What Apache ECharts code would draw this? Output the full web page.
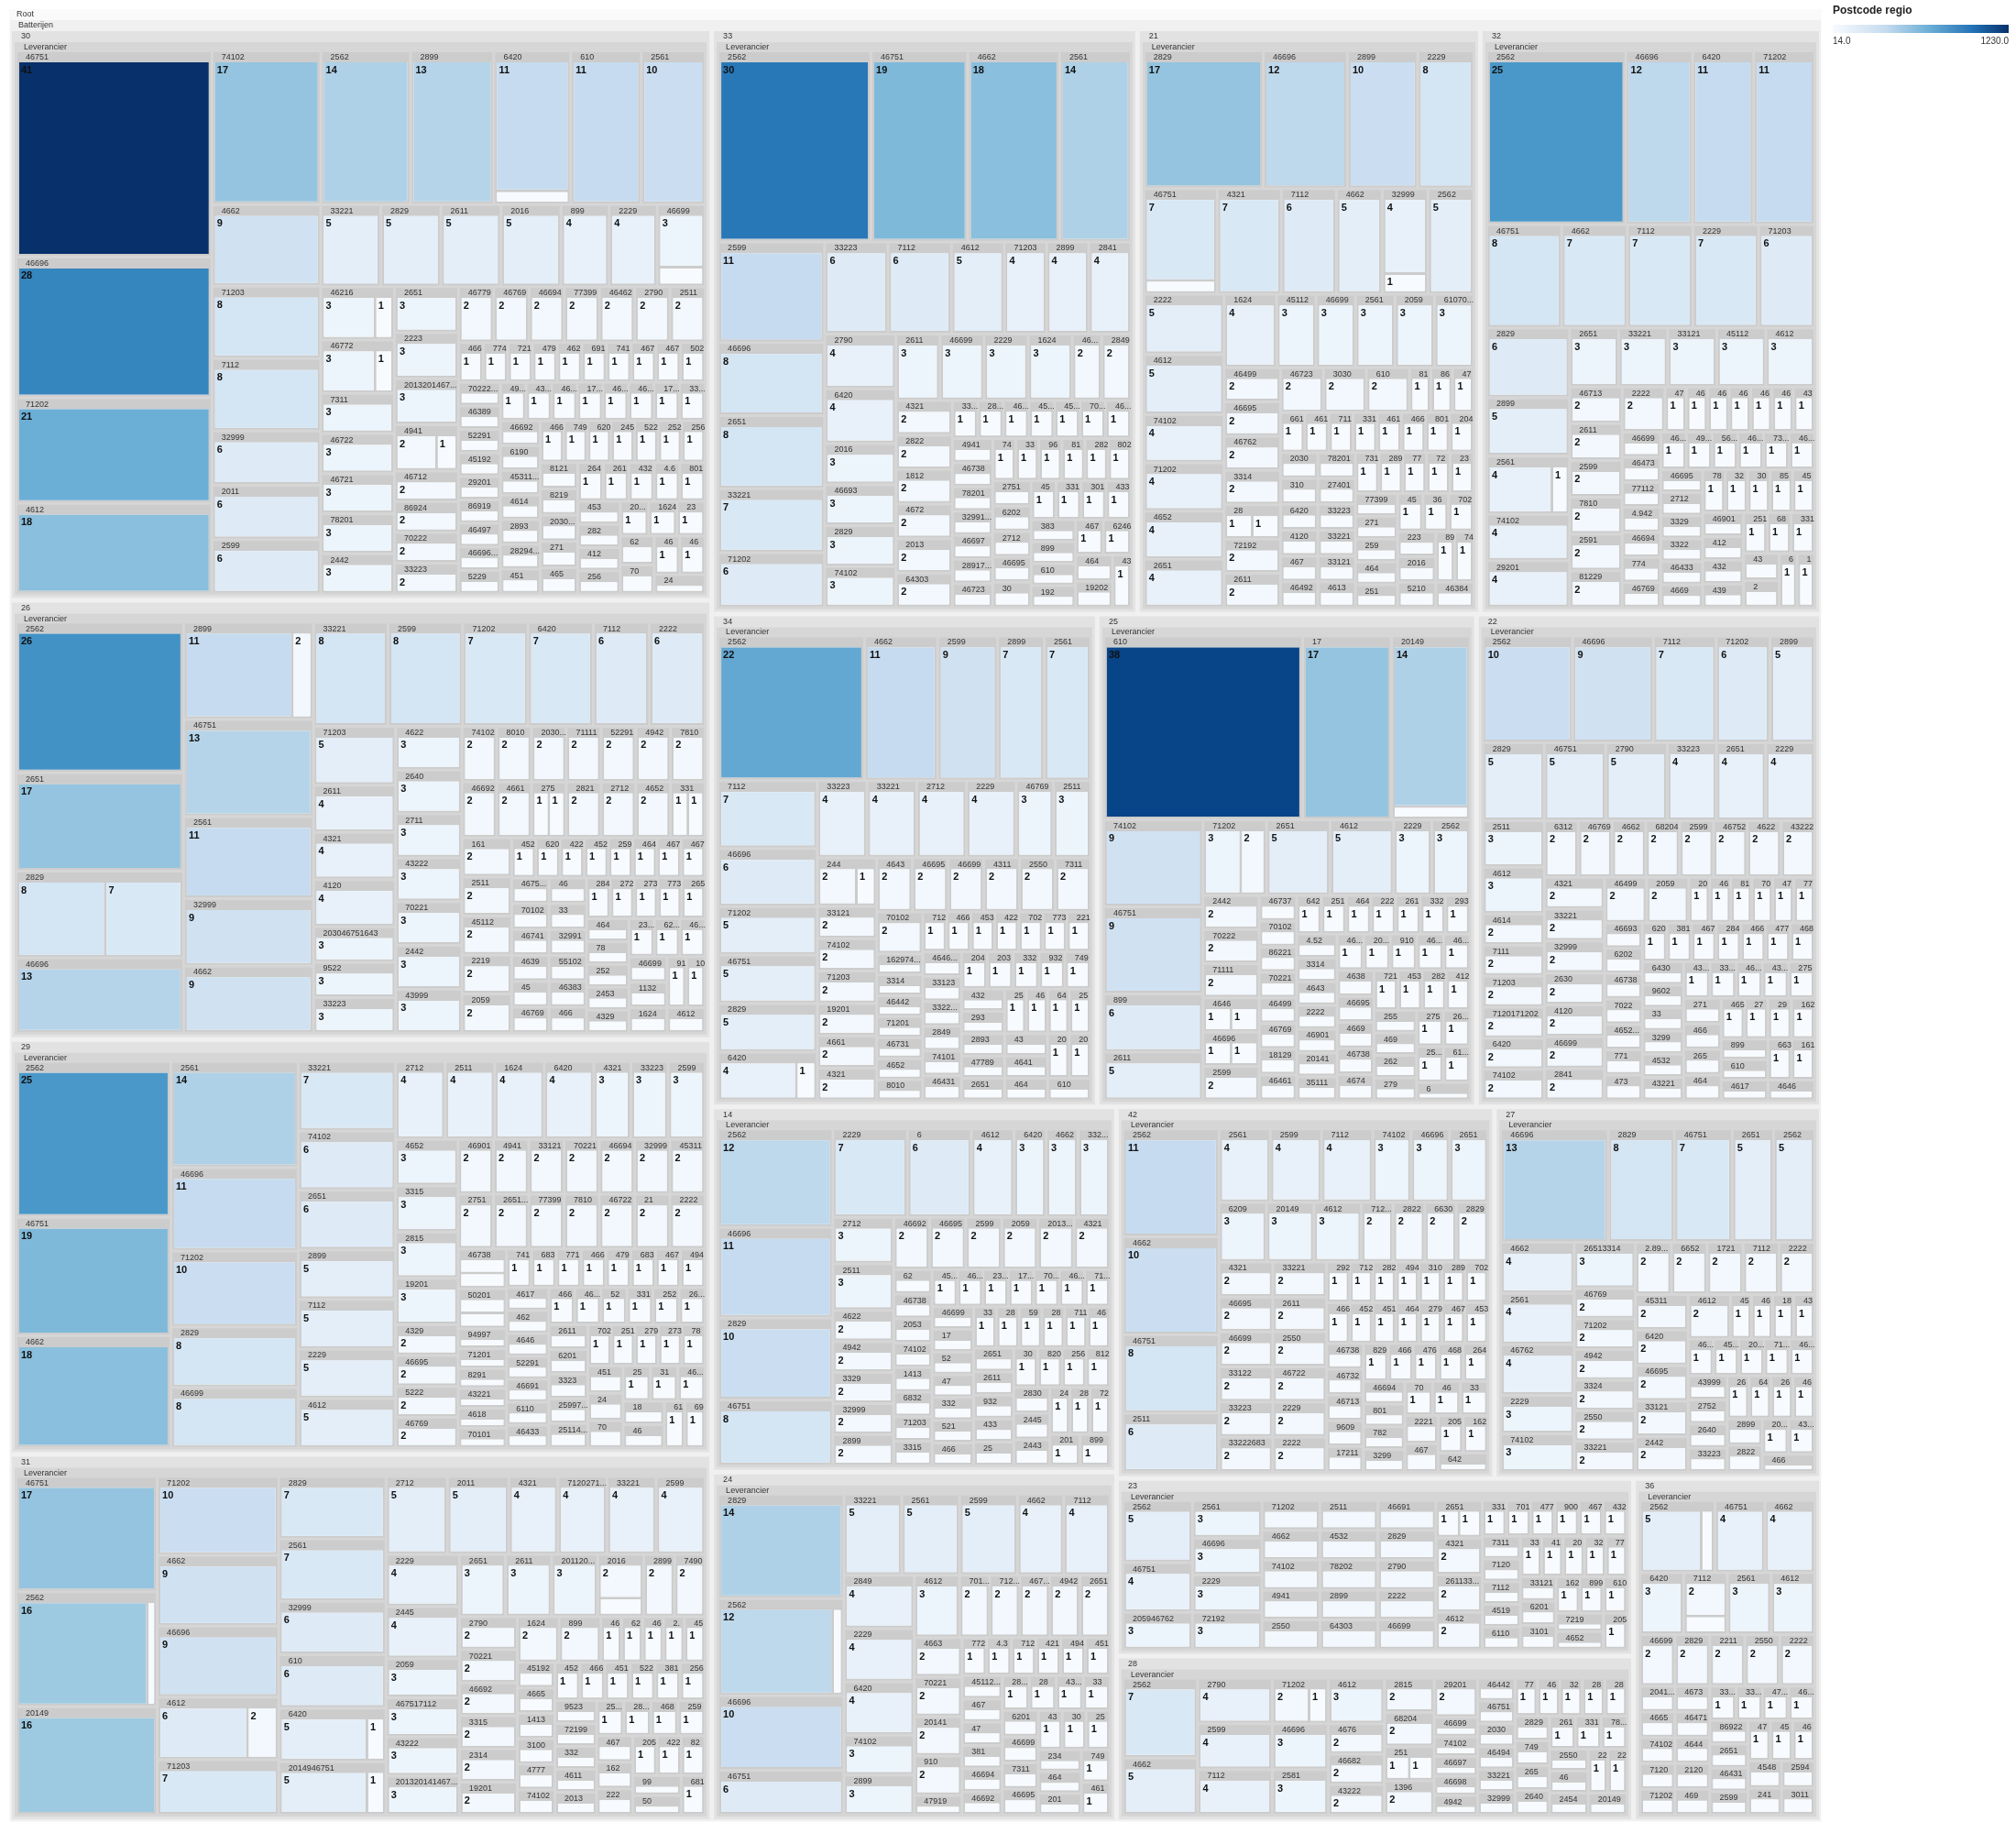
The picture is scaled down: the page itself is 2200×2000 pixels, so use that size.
<!DOCTYPE html>
<html>
<head>
<meta charset="utf-8">
<script src="https://cdn.jsdelivr.net/npm/echarts@6/dist/echarts.min.js"></script>
<style>html,body{margin:0;padding:0;background:#fff}#main{width:2200px;height:2000px}</style>
</head>
<body>
<div id="main"></div>
<script>
// postcode -> leaf values per regio
var regio31 = [['4612',[6,2]],['2016',[1,2]],['2014946751',[1,5]],['6420',[1,5]],['6810',[1]],['2562',[1,16]],['610',[6]],['50',[1]],['899',[2]],['99',[1]],['1624',[2]],['82',[1]],['19201',[2]],['2011',[5]],['201120593319',[3]],['4222',[1]],['2712',[5]],['2445',[4]],['205',[1]],['222',[1]],['2229',[4]],['2599',[4]],['162',[1]],['467',[1]],['2314',[2]],['2561',[7]],['3315',[2]],['71202',[10]],['259',[1]],['2611',[3]],['46692',[2]],['468',[1]],['2651',[3]],['70221',[2]],['2790',[2]],['2895',[1]],['25624941',[1]],['2013',[1]],['20132014146751',[3]],['43222',[3]],['467517112',[3]],['4611',[1]],['332',[1]],['33221',[4]],['72199',[1]],['20149',[16]],['9523',[1]],['25624663',[1]],['2829',[7]],['46696',[9]],['4662',[9]],['32999',[6]],['46751',[17]],['3811',[1]],['52291',[1]],['7120271203',[4]],['45112',[1]],['71203',[7]],['7490',[2]],['4321',[4]],['46694',[1]],['2899',[2]],['2059',[3]],['45202',[1]],['74102',[1]],['4777',[1]],['3100',[1]],['1413',[1]],['4665',[1]],['45192',[1]],['45112467',[1]],['2.93',[1]],['46600',[1]],['6209',[1]],['46740',[1]]];
var regio30 = [['4612',[18]],['24',[1]],['46772',[1,3]],['46',[1]],['46216',[1,3]],['4941',[1,2]],['46699',[1,3]],['46',[1]],['70',[1]],['6420',[1,11]],['62',[1]],['610',[11]],['46751',[41]],['2599',[6]],['2229',[4]],['23',[1]],['899',[4]],['1624',[1]],['2011',[6]],['2016',[5]],['201320146751',[3]],['201415221',[1]],['2899',[13]],['2223',[3]],['2561',[10]],['256',[1]],['412',[1]],['282',[1]],['7112',[8]],['453',[1]],['801',[1]],['4.6',[1]],['2611',[5]],['432',[1]],['261',[1]],['264',[1]],['2651',[3]],['465',[1]],['271',[1]],['2030246',[1]],['2442',[3]],['78201',[3]],['8219',[1]],['8121',[1]],['2562',[14]],['46721',[3]],['46722',[3]],['2511',[2]],['256246722',[1]],['2529',[1]],['52292',[1]],['2454',[1]],['2790',[2]],['2829',[5]],['620',[1]],['749',[1]],['46462',[2]],['46649981',[1]],['32999',[6]],['77399',[2]],['33221',[5]],['451',[1]],['2829465271128010',[1]],['2893',[1]],['4662',[9]],['4614',[1]],['4531152109',[1]],['74102',[17]],['6190',[1]],['71202',[21]],['7311',[3]],['46694',[2]],['46692',[1]],['46696',[28]],['3311',[1]],['1729',[1]],['46723',[1]],['46732',[1]],['1723',[1]],['4665',[1]],['46769',[2]],['43999',[1]],['4932',[1]],['5229',[1]],['46779',[2]],['466965229',[1]],['46497',[1]],['86919',[1]],['29201',[1]],['45192',[1]],['52291',[1]],['46389',[1]],['7022286922',[1]],['50201',[1]],['71203',[8]],['33223',[2]],['46761',[1]],['46751642',[1]],['70222',[2]],['86924',[2]],['74101',[1]],['6910',[1]],['46241',[1]],['46712',[2]],['47915',[1]],['72192',[1]],['7740',[1]],['46697',[1]]];
var regio24 = [['4612',[3]],['461',[1]],['749',[1]],['910',[2]],['6420',[4]],['201',[1]],['20141',[2]],['464',[1]],['2229',[4]],['70221',[2]],['2849',[4]],['2599',[5]],['4663',[2]],['234',[1]],['2561',[5]],['25',[1]],['2562',[1,12]],['30',[1]],['43',[1]],['46695',[1]],['2651',[2]],['7311',[1]],['46699',[1]],['6201',[1]],['2829',[14]],['33',[1]],['2899',[3]],['7112',[4]],['4321',[1]],['28',[1]],['33221',[5]],['28123322346699',[1]],['46692',[1]],['46694',[1]],['4662',[4]],['381',[1]],['47',[1]],['46751',[6]],['46696',[10]],['4942',[2]],['467',[1]],['46769',[2]],['71202',[2]],['4511245204',[1]],['45112',[1]],['74102',[3]],['4941',[1]],['4211145192',[1]],['70102',[2]],['71203',[1]],['4.32222466',[1]],['77299',[1]],['47919',[1]]];
var regio34 = [['6420',[1,4]],['610',[1]],['201',[1]],['70102',[2]],['205',[1]],['2229',[4]],['464',[1]],['4641',[1]],['7311',[2]],['7112',[7]],['244',[1,2]],['2561',[7]],['2511',[3]],['2562',[22]],['43',[1]],['4662',[11]],['2550',[2]],['4311',[2]],['2599',[9]],['256',[1]],['649',[1]],['467',[1]],['251',[1]],['46699',[2]],['2712',[4]],['46695',[2]],['2651',[1]],['4643',[2]],['4321',[2]],['47789',[1]],['2893',[1]],['2829',[5]],['4661',[2]],['293',[1]],['432',[1]],['749',[1]],['932',[1]],['332',[1]],['33221',[4]],['33223',[4]],['46696',[6]],['203',[1]],['204',[1]],['46431',[1]],['74101',[1]],['2849',[1]],['2899',[7]],['3322343222',[1]],['33123',[1]],['4646146751',[1]],['19201',[2]],['46769',[3]],['2219',[1]],['7732',[1]],['7021',[1]],['4222',[1]],['45311',[1]],['4663',[1]],['46751',[5]],['71202',[5]],['7120171',[1]],['8010',[1]],['71203',[2]],['74102',[2]],['33121',[2]],['4652',[1]],['46731',[1]],['71201',[1]],['46442',[1]],['3314',[1]],['162974102',[1]]];
var regio14 = [['4612',[4]],['899',[1]],['201',[1]],['4321',[2]],['2013467',[2]],['721',[1]],['2059',[2]],['2829',[10]],['2229',[7]],['2815',[1]],['2441',[1]],['2443',[1]],['2445',[1]],['2830',[1]],['81229',[1]],['2561',[1]],['2562',[12]],['820',[1]],['30',[1]],['25',[1]],['433',[1]],['2511',[3]],['2599',[2]],['932',[1]],['2611',[1]],['2651',[1]],['46695',[2]],['464',[1]],['2712',[3]],['7112',[1]],['282',[1]],['5911',[1]],['46692',[2]],['2841',[1]],['2899',[2]],['32999',[2]],['33221',[3]],['331',[1]],['466',[1]],['521',[1]],['332',[1]],['3329',[2]],['47',[1]],['4662',[3]],['52',[1]],['17',[1]],['46696',[11]],['46699',[1]],['46751',[8]],['4942',[2]],['71202',[1]],['4669',[1]],['7022',[1]],['4622',[2]],['17122',[1]],['2312',[1]],['46311',[1]],['45205',[1]],['3315',[1]],['71203',[1]],['6832',[1]],['1413',[1]],['74102',[1]],['2053',[1]],['6420',[3]],['46738',[1]],['62',[1]],['6',[6]]];
var regio33 = [['4612',[5]],['439',[1]],['19202',[1]],['464',[1]],['6246',[1]],['64303',[2]],['467',[1]],['192',[1]],['610',[1]],['899',[1]],['1624',[3]],['2013',[2]],['2229',[3]],['383',[1]],['46699',[3]],['4334',[1]],['2561',[14]],['3011',[1]],['3315',[1]],['2562',[30]],['4662',[18]],['4672',[2]],['2599',[11]],['1812',[2]],['2822',[2]],['45',[1]],['2611',[3]],['74102',[3]],['6420',[4]],['2651',[8]],['30',[1]],['7112',[6]],['46695',[1]],['4321',[2]],['2712',[1]],['6202',[1]],['2751',[1]],['2790',[4]],['8020',[1]],['282971202',[1]],['2829',[3]],['2841',[4]],['81',[1]],['96',[1]],['33',[1]],['33221',[7]],['74',[1]],['33223',[6]],['46723',[1]],['2849',[2]],['289178201',[1]],['2899',[4]],['46697',[1]],['46693',[3]],['3299185592',[1]],['78201',[1]],['46738',[1]],['4941',[1]],['46696',[8]],['46691',[1]],['46751',[19]],['2016',[3]],['71202',[6]],['70222',[1]],['46769',[2]],['45192',[1]],['4531',[1]],['4683',[1]],['2814',[1]],['71203',[4]],['33121',[1]]];
var regio22 = [['4612',[3]],['4646',[1]],['161',[1]],['6630',[1]],['4617',[1]],['610',[1]],['899',[1]],['1624',[1]],['2059',[2]],['2229',[4]],['46696',[9]],['46499',[2]],['2511',[3]],['29',[1]],['27',[1]],['2562',[10]],['2841',[2]],['7112',[7]],['465',[1]],['464',[1]],['46699',[2]],['2651',[4]],['265',[1]],['466',[1]],['271',[1]],['275',[1]],['4391',[1]],['46741',[1]],['3315',[1]],['43999',[1]],['43221',[1]],['4532',[1]],['4120',[2]],['2790',[5]],['2630',[2]],['3299',[1]],['33',[1]],['9602',[1]],['6430',[1]],['32999',[2]],['33221',[2]],['4321',[2]],['43222',[2]],['33223',[4]],['4622',[2]],['468',[1]],['477',[1]],['46751',[5]],['46752',[2]],['2599',[2]],['2829',[5]],['46691',[1]],['2849',[1]],['2899',[5]],['68204',[2]],['46762',[1]],['3811',[1]],['71202',[6]],['620',[1]],['473',[1]],['771',[1]],['465246699',[1]],['4662',[2]],['46769',[2]],['6312',[2]],['7022',[1]],['74102',[2]],['6420',[2]],['46738',[1]],['7120171202',[2]],['71203',[2]],['7111',[2]],['6202',[1]],['46693',[1]],['77399',[1]],['47717',[1]],['70221',[1]],['8129',[1]],['4614',[2]],['46432',[1]],['2052',[1]]];
var regio29 = [['4612',[5]],['50201',[1,1]],['46738',[1,1]],['6420',[4]],['692',[1]],['610',[1]],['19201',[3]],['1624',[4]],['46',[1]],['2222',[2]],['2229',[5]],['18',[1]],['2562',[25]],['46496',[1]],['21',[2]],['46722',[2]],['2561',[14]],['31',[1]],['25',[1]],['2511',[4]],['7810',[2]],['70',[1]],['71202',[10]],['24',[1]],['33221',[7]],['2815',[3]],['451',[1]],['46699',[8]],['3315',[3]],['78',[1]],['7112',[5]],['77399',[2]],['2651302',[2]],['2712',[4]],['273',[1]],['2751',[2]],['279',[1]],['4652',[3]],['2829',[8]],['251',[1]],['702',[1]],['251146738',[1]],['2599',[3]],['25997112',[1]],['45311',[2]],['3323',[1]],['6201',[1]],['2611',[1]],['2640',[1]],['2651',[6]],['4662',[18]],['32999',[2]],['46694',[2]],['74102',[6]],['252',[1]],['70221',[2]],['33223',[3]],['331',[1]],['33121',[2]],['46696',[11]],['4941',[2]],['52',[1]],['46212',[1]],['466',[1]],['46433',[1]],['6110',[1]],['46691',[1]],['52291',[1]],['46751',[19]],['4646',[1]],['462',[1]],['4617',[1]],['46901',[2]],['4942',[1]],['4676',[1]],['46769',[2]],['5222',[2]],['6831',[1]],['479187',[1]],['4669571202',[1]],['46695',[2]],['4329',[2]],['4321',[3]],['2899',[5]],['7712',[1]],['6832',[1]],['74103',[1]],['70101',[1]],['4618',[1]],['43221',[1]],['8291',[1]],['71201',[1]],['94997',[1]]];
var regio21 = [['4612',[5]],['46751',[1,7]],['46384',[1]],['741',[1]],['610',[2]],['61070221',[3]],['899',[1]],['1624',[4]],['5210',[1]],['2016',[1]],['2059',[3]],['2222',[5]],['2229',[8]],['223',[1]],['3030',[2]],['46723',[2]],['7112',[6]],['702',[1]],['36',[1]],['45',[1]],['2561',[3]],['2562',[5]],['2829',[17]],['251',[1]],['464',[1]],['259',[1]],['2611',[2]],['4321',[7]],['2651',[4]],['271',[1]],['4652',[4]],['72192',[2]],['46699',[3]],['28',[1,1]],['2899',[10]],['77399',[1]],['32999',[4,1]],['23',[1]],['72',[1]],['77',[1]],['46696',[12]],['28994',[1]],['7311',[1]],['4613',[1]],['33121',[1]],['33221',[1]],['3314',[2]],['33223',[1]],['27401',[1]],['4662',[5]],['78201',[1]],['46492',[1]],['46762',[2]],['467',[1]],['71202',[4]],['46695',[2]],['4120',[1]],['6420',[1]],['45112',[3]],['74102',[4]],['310',[1]],['2030',[1]],['2041',[1]],['8010',[1]],['4661741',[1]],['46499',[2]],['4619',[1]],['33122',[1]],['71111',[1]],['4618',[1]],['66191',[1]],['47914',[1]],['86221',[1]],['8130',[1]]];
var regio32 = [['4612',[3]],['46751',[8]],['71202',[11]],['29201',[4]],['16',[1]],['6420',[11]],['2222',[2]],['62',[1]],['2229',[7]],['2',[1]],['43',[1]],['3312',[1]],['2562',[25]],['81229',[2]],['2561',[1,4]],['7112',[7]],['2591',[2]],['68',[1]],['2511',[1]],['439',[1]],['432',[1]],['412',[1]],['46901',[1]],['2899',[5]],['7810',[2]],['2599',[2]],['45112',[3]],['45311',[1]],['8550',[1]],['3011',[1]],['3299',[1]],['33121',[3]],['33221',[3]],['7820',[1]],['4669',[1]],['2611',[2]],['46433',[1]],['2651',[3]],['3322',[1]],['3329',[1]],['4662',[7]],['46713',[2]],['2712',[1]],['46695',[1]],['46752',[1]],['2829',[6]],['46696',[12]],['7320',[1]],['46732',[1]],['5610',[1]],['4942',[1]],['4676',[1]],['46769',[1]],['71203',[6]],['774',[1]],['46694',[1]],['4.942',[1]],['77112',[1]],['74102',[4]],['46473',[1]],['46699',[1]],['4321',[1]],['4665',[1]],['4614',[1]],['46383',[1]],['461846696',[1]],['4616',[1]],['47541475',[1]]];
var regio25 = [['4612',[5]],['6',[1]],['610',[38]],['20149',[1,14]],['6100910',[1]],['25626612',[1]],['2642',[1]],['2651',[5]],['275',[1]],['279',[1]],['262',[1]],['469',[1]],['255',[1]],['4120',[1]],['2829',[1]],['899',[6]],['2562',[3]],['45311',[1]],['2599',[2]],['7219',[1]],['71202',[2,3]],['4674',[1]],['46696',[1,1]],['46738',[1]],['4669',[1]],['46695',[1]],['4638',[1]],['4646',[1,1]],['46722',[1]],['46712',[1]],['910',[1]],['2011',[1]],['4646270102',[1]],['35111',[1]],['20141',[1]],['46901',[1]],['2611',[5]],['2222',[1]],['2229',[3]],['46751',[9]],['4643',[1]],['3314',[1]],['4.52',[1]],['2932',[1]],['3322',[1]],['2611263',[1]],['71111',[2]],['74102',[9]],['2221222946699',[1]],['70222',[2]],['2442',[2]],['46433',[1]],['251',[1]],['6420',[1]],['46461',[1]],['18129',[1]],['46769',[1]],['46499',[1]],['70221',[1]],['86221',[1]],['70102',[1]],['46737',[1]],['17',[17]]];
var regio23 = [['4612',[2]],['2059',[1]],['72192',[3]],['2611331431',[2]],['4321',[2]],['2651',[1,1]],['46699',[2]],['4652',[1]],['7219',[1]],['2222',[2]],['610',[1]],['899',[1]],['2229',[3]],['2562',[5]],['1624',[1]],['3101',[1]],['2790',[2]],['2829',[2]],['46691',[2]],['6201',[1]],['33121',[1]],['64303',[2]],['2899',[2]],['46696',[3]],['7739',[1]],['46751',[4]],['78202',[2]],['4532',[2]],['2511',[2]],['32999',[1]],['2052',[1]],['4120',[1]],['2550',[2]],['33221',[1]],['4941',[2]],['6110',[1]],['4519',[1]],['7112',[1]],['7120',[1]],['2561',[3]],['7311',[1]],['43221',[1]],['46762',[1]],['205946762',[3]],['9002',[1]],['74102',[2]],['47713',[1]],['70102',[1]],['4662',[2]],['71202',[2]],['3315',[1]]];
var regio28 = [['4612',[3]],['20149',[1]],['2229',[1]],['2221',[1]],['2454',[1]],['2581',[3]],['29201',[2]],['46',[1]],['2562',[7]],['1396',[2]],['251',[1,1]],['2550',[1]],['7820',[1]],['331',[1]],['7112',[4]],['68204',[2]],['2599',[4]],['261',[1]],['2640',[1]],['265',[1]],['2790',[4]],['749',[1]],['2829',[1]],['2813',[1]],['281',[1]],['32991',[1]],['4644152109',[1]],['2815',[2]],['7731',[1]],['46696',[3]],['32999',[1]],['33221',[1]],['43222',[2]],['46682',[2]],['46494',[1]],['71202',[1,2]],['2030',[1]],['46751',[1]],['46442',[1]],['4662',[5]],['4676',[2]],['4942',[1]],['46698',[1]],['46697',[1]],['74102',[1]],['46699',[1]]];
var regio26 = [['4612',[1]],['46751',[13]],['2059',[2]],['43999',[3]],['2222',[6]],['2899',[2,11]],['2829',[8,7]],['108971201',[1]],['910',[1]],['1624',[1]],['1132',[1]],['46699',[1]],['2651',[17]],['2219',[2]],['2561',[11]],['46695',[1]],['6201',[1]],['2314',[1]],['4329',[1]],['2442',[3]],['6420',[7]],['2453',[1]],['45112',[2]],['4120',[4]],['2511',[2]],['161',[2]],['2599',[8]],['70221',[3]],['2562',[26]],['4321',[4]],['4662',[9]],['252',[1]],['43222',[3]],['2711',[3]],['78',[1]],['331',[1,1]],['2611',[4]],['4652',[2]],['7112',[6]],['2640',[3]],['464',[1]],['265',[1]],['773',[1]],['2712',[2]],['2821',[2]],['273',[1]],['275',[1,1]],['272',[1]],['2849',[1]],['4622',[3]],['33221',[8]],['4661',[2]],['46692',[2]],['466',[1]],['46383',[1]],['55102',[1]],['32991',[1]],['32999',[9]],['33223',[3]],['7810',[2]],['33',[1]],['46696',[13]],['4942',[2]],['52291',[2]],['46',[1]],['46769',[1]],['45',[1]],['71202',[7]],['71111',[2]],['4639',[1]],['203046751642',[2]],['46741',[1]],['70102',[1]],['9522',[3]],['203046751643',[3]],['467517112',[1]],['46722',[1]],['46721',[1]],['464247521',[1]],['2593',[1]],['8010',[2]],['71203',[5]],['45204',[1]],['4222',[1]],['6202',[1]],['74102',[2]],['4520271',[1]]];
var regio36 = [['4612',[3]],['2222',[2]],['2550',[2]],['2211',[2]],['2561',[3]],['3011',[1]],['2562',[1,5]],['2594',[1]],['241',[1]],['4548',[1]],['467',[1]],['45112',[1]],['4752',[1]],['2599',[1]],['46431',[1]],['2651',[1]],['2829',[2]],['7112',[2,1]],['4662',[4]],['86922',[1]],['46699',[2]],['4649',[1]],['4780',[1]],['33121',[1]],['6420',[3]],['3322',[1]],['469',[1]],['2120',[1]],['4644',[1]],['46471',[1]],['4673',[1]],['71202',[1]],['7120',[1]],['46751',[4]],['74102',[1]],['4665',[1]],['204146751',[1]]];
var regio42 = [['4612',[3]],['642',[1]],['162',[1]],['20149',[3]],['46751',[8]],['205',[1]],['467',[1]],['2221',[1]],['2222',[2]],['2229',[2]],['2562',[11]],['33',[1]],['46722',[2]],['46',[1]],['70',[1]],['7112',[4]],['2599',[4]],['2550',[2]],['2511',[6]],['2611',[2]],['6209',[3]],['3299',[1]],['782',[1]],['33221',[2]],['801',[1]],['33222683',[2]],['33223',[2]],['46694',[1]],['4662',[10]],['2640',[1]],['46891',[1]],['47642',[1]],['46693',[1]],['82999',[1]],['33122',[2]],['17211',[1]],['9609',[1]],['2651',[3]],['46696',[3]],['46713',[1]],['46732',[1]],['46738',[1]],['4539',[1]],['2561',[4]],['46699',[2]],['4676',[1]],['46695',[2]],['4321',[2]],['2790',[1]],['2829',[2]],['46434',[1]],['4511245202',[1]],['45202',[1]],['6630',[2]],['46697',[1]],['7022',[1]],['2822',[2]],['2899',[1]],['3109',[1]],['4941',[1]],['28243999',[1]],['74102',[3]],['71202',[1]],['29201',[1]],['71203',[2]]];
var regio27 = [['4612',[2]],['2442',[2]],['2562',[5]],['33121',[2]],['26513314',[3]],['2651',[5]],['46695',[2]],['466',[1]],['4321',[1]],['74102',[3]],['46751',[7]],['6420',[2]],['45311',[2]],['2052',[1]],['2222',[2]],['46762',[4]],['2561',[4]],['2829',[8]],['2822',[1]],['2899',[1]],['7112',[2]],['4662',[4]],['46696',[13]],['1721',[2]],['6652',[2]],['2.8993324432',[2]],['46693',[1]],['2611',[1]],['64303',[1]],['33221',[2]],['2612',[1]],['33223',[1]],['2640',[1]],['2752',[1]],['2229',[3]],['43999',[1]],['46901',[1]],['2550',[2]],['3324',[2]],['71203',[1]],['2041',[1]],['4942',[2]],['71202',[2]],['4511',[1]],['4662466',[1]],['4334',[1]],['18129',[1]],['4672346',[1]],['46769',[2]],['45202',[1]]];

var regioNames = ['31','30','24','34','14','33','22','29','21','32','25','23','28','26','36','42','27'];
var regioData = [regio31, regio30, regio24, regio34, regio14, regio33, regio22, regio29, regio21, regio32, regio25, regio23, regio28, regio26, regio36, regio42, regio27];
var legendMin = 14.0, legendMax = 1230.0;

var blues = ['#f7fbff','#deebf7','#c6dbef','#9ecae1','#6baed6','#4292c6','#2171b5','#08519c','#08306b'];

function buildRegio(name, list) {
  return {
    name: name,
    children: [{
      name: 'Leverancier',
      children: list.map(function (p) {
        return {
          name: p[0],
          children: p[1].map(function (v) { return { name: '', value: v }; })
        };
      })
    }]
  };
}

var regions = [];
for (var i = 0; i < regioNames.length; i++) {
  regions.push(buildRegio(regioNames[i], regioData[i]));
}

var chart = echarts.init(document.getElementById('main'));

var upper = function (h) {
  return { show: true, height: h, formatter: '{b}', color: '#333', fontSize: 9, fontWeight: 'normal',
    fontFamily: 'Arial', padding: [0, 0, 0, 2], position: 'insideLeft' };
};

var option = {
  backgroundColor: '#ffffff',
  graphic: [
    { type: 'text', left: 2000, top: 6, style: { text: 'Postcode regio', font: 'bold 12px Arial', fill: '#222' } },
    { type: 'rect', left: 2000, top: 27, shape: { width: 192, height: 9 },
      style: { fill: new echarts.graphic.LinearGradient(0, 0, 1, 0, [
        { offset: 0, color: '#f7fbff' }, { offset: 0.3, color: '#c6dbef' }, { offset: 0.55, color: '#6baed6' },
        { offset: 0.8, color: '#2171b5' }, { offset: 1, color: '#08306b' }]) } },
    { type: 'text', left: 2000, top: 40, style: { text: legendMin.toFixed(1), font: '10px Arial', fill: '#333' } },
    { type: 'text', right: 8, top: 40, style: { text: legendMax.toFixed(1), font: '10px Arial', fill: '#333' } }
  ],
  series: [{
    type: 'treemap',
    left: 10, top: 10, width: 1978, height: 1978,
    roam: false,
    nodeClick: false,
    breadcrumb: { show: false },
    label: {
      show: true,
      position: 'insideTopLeft',
      formatter: function (p) { return p.value; },
      fontSize: 11, fontWeight: 'bold', color: '#111', fontFamily: 'Arial',
      padding: [3, 2]
    },
    levels: [
      { itemStyle: { borderWidth: 0, gapWidth: 0 } },
      { itemStyle: { borderColor: '#fafafa', borderWidth: 1, gapWidth: 1 }, upperLabel: upper(12) },
      { itemStyle: { borderColor: '#f0f0f0', borderWidth: 2, gapWidth: 5 }, upperLabel: upper(12) },
      { itemStyle: { borderColor: '#e2e2e2', borderWidth: 3, gapWidth: 3 }, upperLabel: upper(12) },
      { itemStyle: { borderColor: '#d6d6d6', borderWidth: 3, gapWidth: 3 }, upperLabel: upper(11) },
      { itemStyle: { borderColor: '#cccccc', borderWidth: 2, gapWidth: 3 }, upperLabel: upper(11),
        color: blues, colorMappingBy: 'value', visualMin: 1, visualMax: 41 },
      { color: blues, colorMappingBy: 'value', visualMin: 1, visualMax: 41,
        itemStyle: { borderWidth: 0, gapWidth: 0 } }
    ],
    data: [{ name: 'Root', children: [{ name: 'Batterijen', children: regions }] }]
  }]
};

chart.setOption(option);
</script>
</body>
</html>
